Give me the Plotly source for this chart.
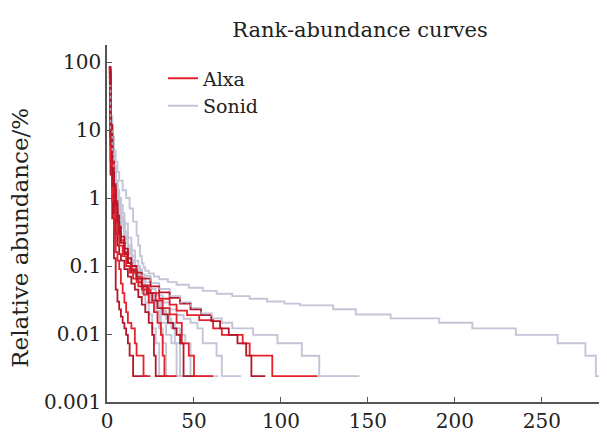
import plotly.graph_objects as go

# ---------------- data (rank, relative abundance %) ----------------
# Alxa samples
alxa_1_rank = [1, 2, 3, 4, 5, 6, 7, 8, 10, 12, 14, 17, 20, 25, 30, 36, 40, 46, 53, 61, 66, 72, 78, 82, 95, 121]
alxa_1_pct = [72, 9, 3, 1.3, 0.7, 0.45, 0.32, 0.24, 0.16, 0.11, 0.08, 0.058, 0.045, 0.04, 0.033, 0.027, 0.022, 0.019, 0.016, 0.0121, 0.0097, 0.0097, 0.0073, 0.0048, 0.0024, 0.0024]

alxa_2_rank = [1, 2, 3, 4, 5, 6, 7, 8, 10, 12, 14, 17, 20, 25, 30, 36, 42, 48, 54, 60, 65, 70, 75, 80, 83, 91]
alxa_2_pct = [60, 11, 3.5, 1.6, 0.9, 0.55, 0.38, 0.27, 0.18, 0.13, 0.1, 0.08, 0.065, 0.05, 0.041, 0.034, 0.028, 0.023, 0.019, 0.0155, 0.0121, 0.0097, 0.0073, 0.0048, 0.0024, 0.0024]

alxa_3_rank = [1, 2, 3, 4, 5, 6, 7, 8, 10, 12, 14, 17, 20, 24, 28, 32, 36, 40, 43, 47, 50, 61]
alxa_3_pct = [75, 8, 2.5, 1.1, 0.6, 0.4, 0.3, 0.22, 0.15, 0.11, 0.09, 0.07, 0.052, 0.04, 0.031, 0.024, 0.0194, 0.0146, 0.0073, 0.0048, 0.0024, 0.0024]

alxa_4_rank = [1, 2, 3, 4, 5, 6, 7, 8, 9, 10, 11, 12, 13, 14, 15, 23]
alxa_4_pct = [82, 2.2, 0.5, 0.13, 0.045, 0.03, 0.023, 0.018, 0.0146, 0.0121, 0.0097, 0.0073, 0.0048, 0.0048, 0.0024, 0.0024]

alxa_5_rank = [1, 2, 3, 4, 5, 6, 7, 8, 9, 10, 11, 12, 14, 16, 17, 19, 21, 25]
alxa_5_pct = [78, 3.5, 0.9, 0.35, 0.16, 0.12, 0.09, 0.055, 0.04, 0.029, 0.021, 0.0146, 0.0121, 0.0073, 0.0048, 0.0048, 0.0024, 0.0024]

alxa_6_rank = [1, 2, 3, 4, 5, 6, 7, 8, 10, 12, 14, 16, 18, 20, 22, 24, 26, 27, 28, 35]
alxa_6_pct = [85, 6, 1.5, 0.6, 0.3, 0.2, 0.15, 0.12, 0.09, 0.07, 0.055, 0.045, 0.035, 0.027, 0.021, 0.0146, 0.0097, 0.0048, 0.0024, 0.0024]

alxa_7_rank = [1, 2, 3, 4, 5, 6, 7, 9, 11, 13, 15, 18, 21, 24, 27, 29, 31, 32, 33, 40]
alxa_7_pct = [65, 10, 3, 1.2, 0.5, 0.3, 0.2, 0.14, 0.1, 0.08, 0.065, 0.05, 0.038, 0.029, 0.021, 0.0146, 0.0097, 0.0048, 0.0024, 0.0024]

alxa_8_rank = [1, 2, 3, 4, 5, 6, 7, 8, 10, 12, 14, 17, 20, 23, 26, 29, 32, 35, 38, 40, 42, 44, 50]
alxa_8_pct = [70, 12, 3.5, 1.5, 0.8, 0.45, 0.3, 0.22, 0.15, 0.11, 0.085, 0.065, 0.05, 0.04, 0.031, 0.024, 0.0194, 0.0146, 0.0121, 0.0097, 0.0073, 0.0024, 0.0024]

# Sonid samples
sonid_1_rank = [1, 2, 3, 4, 5, 6, 7, 9, 11, 13, 15, 17, 18, 19, 20, 21, 22, 24, 27, 30, 35, 40, 47, 55, 63, 72, 82, 92, 102, 111, 130, 143, 163, 191, 210, 235, 259, 275, 281, 287]
sonid_1_pct = [62, 16, 8, 5, 3.4, 2.4, 1.8, 1.3, 1.0, 0.7, 0.45, 0.28, 0.2, 0.14, 0.11, 0.095, 0.085, 0.078, 0.07, 0.064, 0.058, 0.053, 0.048, 0.043, 0.039, 0.036, 0.033, 0.030, 0.028, 0.0264, 0.0231, 0.0194, 0.0170, 0.0146, 0.0121, 0.0097, 0.0073, 0.0048, 0.0024, 0.0024]

sonid_2_rank = [1, 2, 3, 4, 5, 6, 7, 8, 9, 10, 12, 14, 16, 18, 20, 25, 30, 36, 42, 48, 54, 60, 66, 72, 84, 98, 112, 122, 145]
sonid_2_pct = [45, 10, 4.5, 2.6, 1.8, 1.3, 1.0, 0.8, 0.6, 0.42, 0.26, 0.17, 0.12, 0.09, 0.072, 0.056, 0.046, 0.036, 0.029, 0.024, 0.02, 0.017, 0.0146, 0.0121, 0.0097, 0.0073, 0.0048, 0.0024, 0.0024]

sonid_3_rank = [1, 2, 3, 4, 5, 6, 7, 8, 9, 10, 12, 14, 16, 19, 22, 25, 28, 32, 36, 40, 44, 48, 52, 55, 63, 66, 77]
sonid_3_pct = [55, 14, 6, 3, 1.8, 1.2, 0.8, 0.55, 0.4, 0.3, 0.2, 0.14, 0.1, 0.075, 0.058, 0.046, 0.037, 0.029, 0.023, 0.019, 0.0168, 0.0146, 0.0121, 0.0073, 0.0048, 0.0024, 0.0024]

sonid_4_rank = [1, 2, 3, 4, 5, 6, 7, 8, 10, 12, 14, 16, 18, 21, 24, 27, 30, 33, 36, 39, 42, 45, 48, 64]
sonid_4_pct = [50, 12, 5, 2.4, 1.4, 0.9, 0.6, 0.42, 0.26, 0.17, 0.12, 0.09, 0.07, 0.052, 0.04, 0.031, 0.024, 0.0194, 0.0146, 0.0121, 0.0097, 0.0073, 0.0024, 0.0024]

sonid_5_rank = [1, 2, 3, 4, 5, 6, 7, 8, 10, 12, 14, 16, 19, 22, 25, 28, 31, 34, 37, 40, 56]
sonid_5_pct = [40, 9, 4, 2, 1.2, 0.8, 0.55, 0.4, 0.25, 0.16, 0.11, 0.08, 0.058, 0.042, 0.031, 0.022, 0.0146, 0.0097, 0.0073, 0.0024, 0.0024]

sonid_6_rank = [1, 2, 3, 4, 5, 6, 7, 8, 10, 12, 14, 16, 18, 21, 24, 27, 30, 32, 34, 46]
sonid_6_pct = [48, 11, 4.5, 2.2, 1.3, 0.85, 0.6, 0.45, 0.28, 0.18, 0.12, 0.085, 0.062, 0.044, 0.03, 0.021, 0.0121, 0.0073, 0.0024, 0.0024]

sonid_7_rank = [1, 2, 3, 4, 5, 6, 7, 8, 10, 12, 14, 16, 18, 20, 22, 24, 26, 28, 30, 40]
sonid_7_pct = [35, 8, 3.5, 1.8, 1.1, 0.7, 0.5, 0.36, 0.22, 0.15, 0.1, 0.075, 0.055, 0.04, 0.029, 0.0194, 0.0121, 0.0073, 0.0024, 0.0024]

sonid_8_rank = [1, 2, 3, 4, 5, 6, 7, 8, 10, 12, 14, 16, 19, 22, 25, 28, 31, 34, 37, 39, 42, 53]
sonid_8_pct = [52, 13, 5.5, 2.8, 1.6, 1.05, 0.7, 0.5, 0.32, 0.2, 0.14, 0.1, 0.072, 0.052, 0.039, 0.029, 0.022, 0.0168, 0.0121, 0.0073, 0.0024, 0.0024]

alxa_ranks = [alxa_1_rank, alxa_2_rank, alxa_3_rank, alxa_4_rank, alxa_5_rank, alxa_6_rank, alxa_7_rank, alxa_8_rank]
alxa_pcts = [alxa_1_pct, alxa_2_pct, alxa_3_pct, alxa_4_pct, alxa_5_pct, alxa_6_pct, alxa_7_pct, alxa_8_pct]
sonid_ranks = [sonid_1_rank, sonid_2_rank, sonid_3_rank, sonid_4_rank, sonid_5_rank, sonid_6_rank, sonid_7_rank, sonid_8_rank]
sonid_pcts = [sonid_1_pct, sonid_2_pct, sonid_3_pct, sonid_4_pct, sonid_5_pct, sonid_6_pct, sonid_7_pct, sonid_8_pct]

y_tick_vals = [0.001, 0.01, 0.1, 1, 10, 100]
y_tick_text = ["0.001", "0.01", "0.1", "1", "10", "100"]
x_tick_vals = [0, 50, 100, 150, 200, 250]

RED = "#e5212b"
DARKRED = "#b3182a"
GREY = "#c4c5d7"
FONT = "DejaVu Serif"
TXT = "#222"

fig = go.Figure()
for r, p in zip(sonid_ranks, sonid_pcts):
    fig.add_trace(go.Scatter(x=r, y=p, mode="lines", line=dict(color=GREY, width=1.9, shape="hv"),
                             name="Sonid", legendgroup="Sonid", showlegend=False, hoverinfo="skip"))
for i, (r, p) in enumerate(zip(alxa_ranks, alxa_pcts)):
    fig.add_trace(go.Scatter(x=r, y=p, mode="lines",
                             line=dict(color=RED if i % 2 == 0 else DARKRED, width=1.8, shape="hv"),
                             name="Alxa", legendgroup="Alxa", showlegend=False, hoverinfo="skip"))
fig.add_trace(go.Scatter(x=sonid_2_rank, y=sonid_2_pct, mode="lines",
                         line=dict(color=GREY, width=1.4, shape="hv", dash="dot"),
                         showlegend=False, hoverinfo="skip", opacity=0.8))
fig.add_trace(go.Scatter(x=[None], y=[None], mode="lines", line=dict(color=RED, width=2),
                         name="Alxa", legendgroup="Alxa"))
fig.add_trace(go.Scatter(x=[None], y=[None], mode="lines", line=dict(color=GREY, width=2),
                         name="Sonid", legendgroup="Sonid"))

# The page adds an 8 px body margin, so the figure is sized to fit inside the window.
fig.update_layout(
    width=599, height=427,
    margin=dict(l=99, r=0, t=37, b=33),
    plot_bgcolor="white", paper_bgcolor="white",
    font=dict(family=FONT, size=20, color=TXT),
    title=dict(text="Rank-abundance curves", x=0.5876, xanchor="center", y=0.9485, yanchor="middle",
               font=dict(family=FONT, size=21, color=TXT)),
    showlegend=True,
    legend=dict(x=0.112, y=0.96, xanchor="left", yanchor="top", bgcolor="rgba(0,0,0,0)",
                font=dict(family=FONT, size=19, color=TXT), tracegroupgap=0, itemwidth=30),
    xaxis=dict(range=[0, 287.4], tickvals=x_tick_vals, showline=True, linecolor="#555", linewidth=1.5,
               ticks="inside", ticklen=5, tickcolor="#555", showgrid=False, zeroline=False,
               tickfont=dict(family=FONT, size=20, color=TXT)),
    yaxis=dict(type="log", range=[-3, 2.25], tickvals=y_tick_vals, ticktext=y_tick_text,
               showline=True, linecolor="#555", linewidth=1.5, ticks="inside", ticklen=5,
               tickcolor="#555", showgrid=False, zeroline=False,
               tickfont=dict(family=FONT, size=20, color=TXT)),
    annotations=[dict(text="Relative abundance/%", xref="paper", yref="paper", x=-0.174, y=0.46,
                      textangle=-90, showarrow=False, xanchor="center", yanchor="middle",
                      font=dict(family=FONT, size=23, color=TXT))],
)

fig.write_html("out.html")
